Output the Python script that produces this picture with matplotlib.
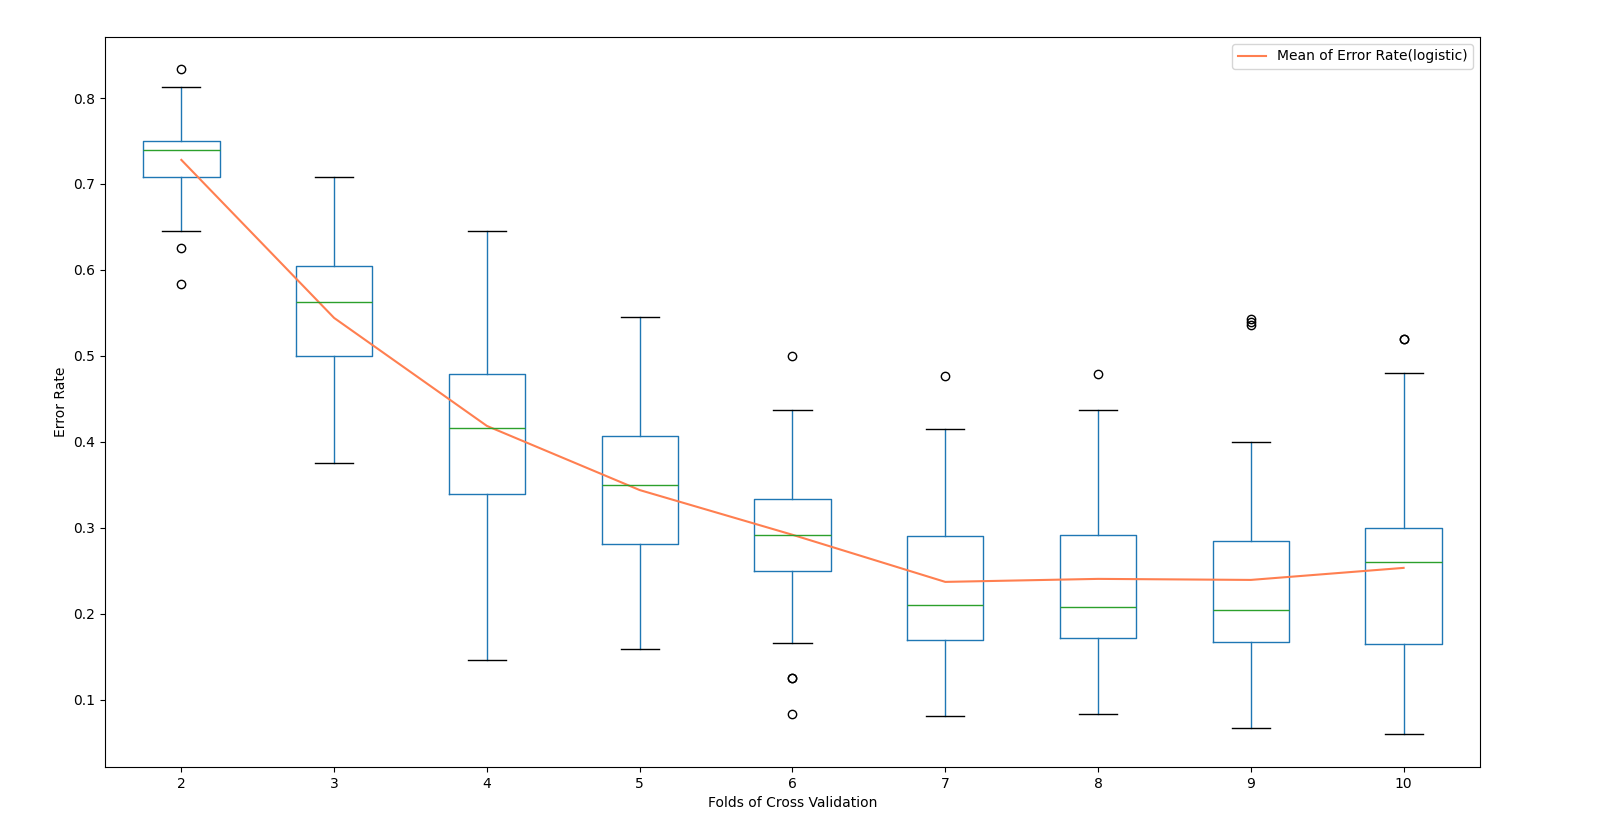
import matplotlib

matplotlib.use("Agg")
import matplotlib.pyplot as plt

# folds of cross validation and box statistics
folds = [2, 3, 4, 5, 6, 7, 8, 9, 10]
whisker_low = [0.6458, 0.375, 0.1465, 0.1593, 0.1667, 0.0814, 0.0833, 0.0667, 0.06]
q1 = [0.7083, 0.50, 0.3395, 0.2814, 0.25, 0.170, 0.172, 0.1674, 0.165]
median = [0.74, 0.5625, 0.4163, 0.35, 0.2917, 0.2105, 0.2083, 0.2047, 0.26]
q3 = [0.75, 0.6042, 0.479, 0.4068, 0.3333, 0.2903, 0.2917, 0.2850, 0.30]
whisker_high = [0.8125, 0.7083, 0.6452, 0.5455, 0.4375, 0.4151, 0.4375, 0.40, 0.48]
outliers = [
    [0.8333, 0.625, 0.5833],
    [],
    [],
    [],
    [0.50, 0.125, 0.125, 0.0833],
    [0.4762],
    [0.4792],
    [0.5435, 0.5391, 0.5357],
    [0.52, 0.52],
]
mean_error = [0.728, 0.5442, 0.4186, 0.344, 0.292, 0.2372, 0.2407, 0.2395, 0.2535]

stats = []
for i, fold in enumerate(folds):
    stats.append({
        "label": str(fold),
        "whislo": whisker_low[i],
        "q1": q1[i],
        "med": median[i],
        "q3": q3[i],
        "whishi": whisker_high[i],
        "fliers": outliers[i],
    })

positions = list(range(1, len(folds) + 1))

fig = plt.figure(figsize=(16, 8.4), dpi=100)
ax = fig.add_axes([0.0656, 0.087, 0.8594, 0.869])

ax.bxp(
    stats,
    positions=positions,
    widths=0.5,
    showfliers=True,
    boxprops=dict(color="#1f77b4"),
    whiskerprops=dict(color="#1f77b4"),
    medianprops=dict(color="#2ca02c"),
    capprops=dict(color="black"),
    flierprops=dict(marker="o", markerfacecolor="none", markeredgecolor="black", markersize=6),
)

ax.plot(positions, mean_error, color="coral", linewidth=1.5, label="Mean of Error Rate(logistic)")

ax.set_xticks(positions)
ax.set_xticklabels([str(f) for f in folds])
ax.set_xlim(0.5, len(folds) + 0.5)
ax.set_ylim(0.022, 0.871)
ax.set_xlabel("Folds of Cross Validation")
ax.set_ylabel("Error Rate")
ax.legend(loc="upper right")

fig.savefig("out.png")
